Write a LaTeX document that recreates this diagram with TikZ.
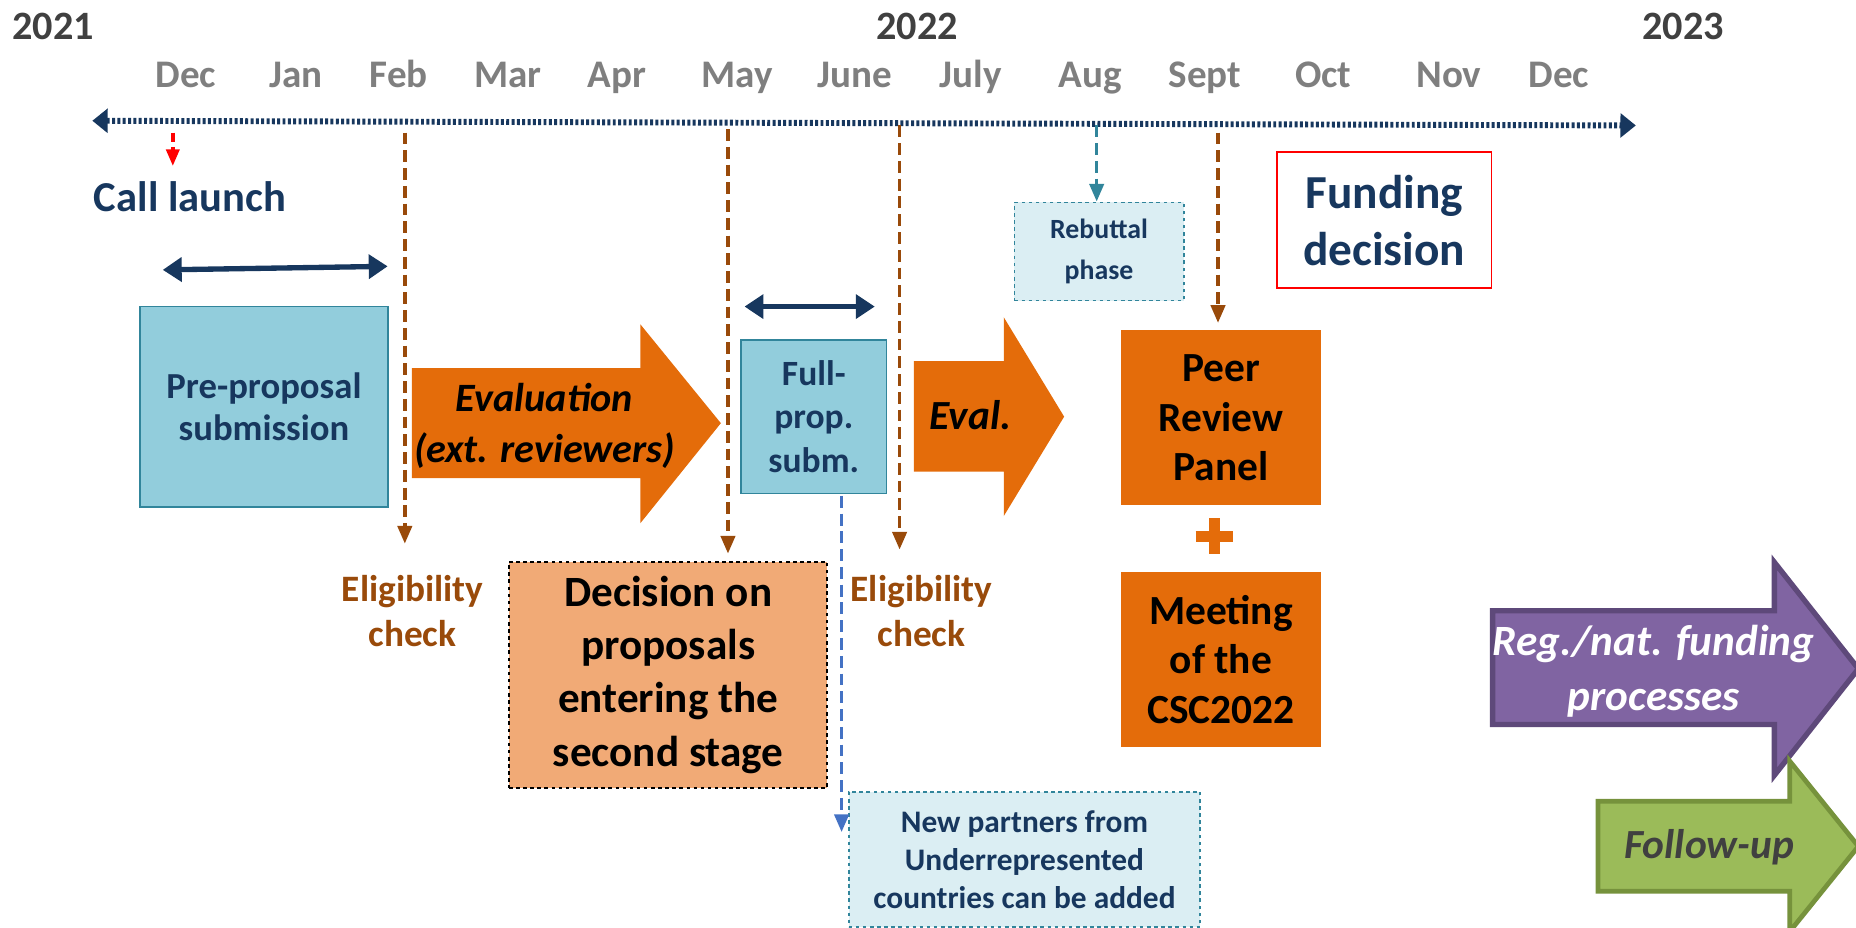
\documentclass[tikz,border=0pt]{standalone}
\usepackage{fontspec}
\setmainfont{Carlito}
\usetikzlibrary{arrows.meta, positioning}

\definecolor{navy}{RGB}{23,55,94}
\definecolor{monthgray}{RGB}{127,127,127}
\definecolor{yeargray}{RGB}{64,64,64}
\definecolor{rust}{RGB}{153,74,10}
\definecolor{evalorange}{RGB}{228,108,10}
\definecolor{lightorange}{RGB}{241,170,118}
\definecolor{subblue}{RGB}{146,205,220}
\definecolor{tealline}{RGB}{49,133,155}
\definecolor{palecyan}{RGB}{219,238,243}
\definecolor{dashblue}{RGB}{68,114,196}
\definecolor{fundpurple}{RGB}{128,100,162}
\definecolor{fundpurpledark}{RGB}{94,73,122}
\definecolor{followgreen}{RGB}{155,187,89}
\definecolor{followgreendark}{RGB}{118,146,60}

\newcommand\fsz[2]{\fontsize{#1}{#2}\selectfont}

\begin{document}
\begin{tikzpicture}[x=1pt, y=-1pt,
    year/.style={text=yeargray, font=\bfseries\fsz{34}{40}, anchor=base},
    month/.style={text=monthgray, font=\bfseries\fsz{33}{40}, anchor=base},
    subbox/.style={draw=tealline, line width=1.5pt, fill=subblue, text=navy, align=center, inner sep=0pt},
    notebox/.style={draw=tealline, dashed, line width=1.4pt, fill=palecyan, text=navy, align=center, inner sep=0pt},
    panelbox/.style={fill=evalorange, align=center, minimum width=169pt, minimum height=148pt, inner sep=0pt, font=\bfseries\fsz{35}{42}},
    check/.style={text=rust, align=center, font=\bfseries\fsz{31.5}{38}},
    flowtext/.style={align=center, font=\bfseries\itshape\fsz{34}{43}},
    markline/.style={line width=3pt, dash pattern=on 10pt off 5pt, -{Triangle[length=15pt,width=12pt]}},
    rustline/.style={markline, draw=rust},
    span/.style={draw=navy, line width=4.5pt, {Triangle[length=16pt,width=20pt]}-{Triangle[length=16pt,width=20pt]}},
  ]
  \useasboundingbox (0,0) rectangle (1568,784);
  \clip (0,0) rectangle (1568,784);

  % years and months
  \node[year] (y21) at (45,33)   {2021};
  \node[year] (y22) at (775,33)  {2022};
  \node[year] (y23) at (1422,33) {2023};
  \foreach \name/\x [count=\i] in {Dec/157, Jan/250, Feb/337, Mar/429, Apr/521, May/623, June/722,
      July/820, Aug/921, Sept/1018, Oct/1118, Nov/1224, Dec/1317}
    \node[month] (m\i) at (\x,74) {\name};

  % time axis
  \coordinate (tstart) at (78,102);
  \coordinate (tend) at (1382,106);
  \draw[navy, line width=5pt, dash pattern=on 2.5pt off 2pt,
    {Triangle[length=13pt,width=20pt]}-{Triangle[length=13pt,width=20pt]}] (tstart) -- (tend);

  % block arrows
  \fill[evalorange] (348,311) -- (541,311) -- (541,274) -- (609,357.5) -- (541,442) -- (541,404) -- (348,404) -- cycle;
  \fill[evalorange] (772,305) -- (848,305) -- (848,268) -- (899,352) -- (848,436) -- (848,398.5) -- (772,398.5) -- cycle;
  \filldraw[fill=fundpurple, draw=fundpurpledark, line width=4.5pt, line join=miter]
    (1261,516) -- (1499,516) -- (1499,475) -- (1570,565) -- (1499,655) -- (1499,612) -- (1261,612) -- cycle;
  \filldraw[fill=followgreen, draw=followgreendark, line width=4pt, line join=miter]
    (1350,677) -- (1512,677) -- (1512,643) -- (1570,715) -- (1512,787) -- (1512,753) -- (1350,753) -- cycle;

  \node[flowtext] (evaltext) at (460,360) {Evaluation\\(ext. reviewers)};
  \node[flowtext, font=\bfseries\itshape\fsz{35}{42}] (evalshort) at (820,351) {Eval.};
  \node[flowtext, text=white, font=\bfseries\itshape\fsz{36.5}{46}] (regnat) at (1397,567) {Reg./nat. funding\\processes};
  \node[flowtext, text=yeargray, font=\bfseries\itshape\fsz{35}{42}] (follow) at (1444,716) {Follow-up};

  % boxes
  \node[anchor=base, text=navy, font=\bfseries\fsz{36}{42}] (call) at (160.5,179) {Call launch};
  \node[subbox, minimum width=210pt, minimum height=169pt, font=\bfseries\fsz{31}{36}] (pre) at (223,343.5) {Pre-proposal\\submission};
  \node[subbox, minimum width=123pt, minimum height=130pt, font=\bfseries\fsz{30}{37}] (fullprop) at (687.5,352) {Full-\\prop.\\subm.};
  \node[notebox, minimum width=143pt, minimum height=83pt, font=\bfseries\fsz{23.5}{35}] (rebuttal) at (928.5,212.5) {Rebuttal\\phase};
  \node[draw=red, line width=1.5pt, fill=white, text=navy, align=center, inner sep=0pt,
    minimum width=181pt, minimum height=115pt, font=\bfseries\fsz{40}{48}] (funding) at (1169.5,186) {Funding\\decision};
  \node[panelbox] (peer) at (1031.5,353) {Peer\\Review\\Panel};
  \node[panelbox] (meeting) at (1031.5,557) {Meeting\\of the\\CSC2022};
  \draw[evalorange, line width=9pt] (1026,438) -- (1026,468) (1010,453) -- (1042,453);
  \node[draw, dashed, line width=1.6pt, fill=lightorange, align=center, inner sep=0pt,
    minimum width=269pt, minimum height=191pt, font=\bfseries\fsz{36.5}{45}] (decision) at (564.5,570)
    {Decision on\\proposals\\entering the\\second stage};
  \node[notebox, minimum width=297pt, minimum height=114pt, font=\bfseries\fsz{26.5}{32}] (newpartners) at (865.5,726)
    {New partners from\\Underrepresented\\countries can be added};
  \node[check] (elig1) at (348.5,516) {Eligibility\\check};
  \node[check] (elig2) at (778.5,516) {Eligibility\\check};

  % spans
  \draw[span] (137.5,228) -- (327.5,225);
  \draw[span] (629,259) -- (739,259);

  % markers from the time axis
  \coordinate (dectick) at (146,112);
  \coordinate (febtick) at (342,112);
  \coordinate (maytick) at (615,109);
  \coordinate (junetick) at (760,106);
  \coordinate (augtick) at (926.5,106);
  \coordinate (septtick) at (1029,112);
  \coordinate (subtick) at (711,419);
  \draw[markline, draw=red, dash pattern=on 8pt off 4pt, -{Triangle[length=14pt,width=11pt]},
    shorten >=10pt] (dectick) -- (dectick |- call.north);
  \draw[rustline, shorten >=23pt] (febtick) -- (febtick |- elig1.north);
  \draw[rustline, shorten >=6pt] (maytick) -- (maytick |- decision.north);
  \draw[rustline, shorten >=18pt] (junetick) -- (junetick |- elig2.north);
  \draw[rustline, shorten >=6pt] (septtick) -- (septtick |- peer.north);
  \draw[markline, draw=tealline] (augtick) -- (augtick |- rebuttal.north);
  \draw[markline, draw=dashblue, shorten >=23pt] (subtick) -- (subtick |- newpartners.center);
\end{tikzpicture}
\end{document}
